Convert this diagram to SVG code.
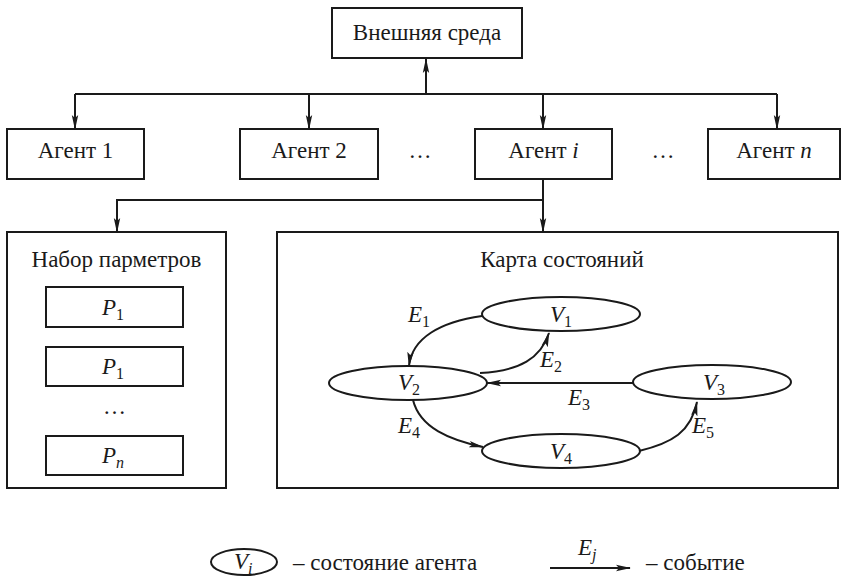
<svg xmlns="http://www.w3.org/2000/svg" width="846" height="579" viewBox="0 0 846 579">
<style>
text{font-family:"Liberation Serif",Tinos,"Times New Roman",Times,"Noto Serif","DejaVu Serif",serif;font-size:23px;fill:#1a1a1a}
.c{text-anchor:middle}
.i{font-style:italic}
.s{font-size:16px;font-style:normal}
.si{font-size:16px;font-style:italic}
.box{fill:#fff;stroke:#1a1a1a;stroke-width:2}
.ell{fill:#fff;stroke:#1a1a1a;stroke-width:2}
.ln{fill:none;stroke:#1a1a1a;stroke-width:2}
.ar{fill:none;stroke:#1a1a1a;stroke-width:2;marker-end:url(#ah)}
</style>
<defs>
<marker id="ah" markerWidth="15" markerHeight="8" refX="14" refY="4" orient="auto" markerUnits="userSpaceOnUse">
<path d="M0,0.8 L15,4 L0,7.2 L3,4 z" fill="#1a1a1a"/>
</marker>
</defs>

<g id="env"><rect class="box" x="332" y="8" width="190" height="50"/><text class="c" x="427" y="40">Внешняя среда</text></g>

<g id="agent1"><rect class="box" x="7" y="129" width="137" height="50"/><text class="c" x="75.5" y="158">Агент 1</text></g>
<g id="agent2"><rect class="box" x="240" y="129" width="138" height="50"/><text class="c" x="309" y="158">Агент 2</text></g>
<g id="agenti"><rect class="box" x="475" y="129" width="137" height="50"/><text class="c" x="543.5" y="158">Агент <tspan class="i">i</tspan></text></g>
<g id="agentn"><rect class="box" x="708" y="129" width="132" height="50"/><text class="c" x="774" y="158">Агент <tspan class="i">n</tspan></text></g>
<text class="c" x="420" y="158">…</text>
<text class="c" x="663" y="158">…</text>

<g id="params">
<rect class="box" x="7" y="232" width="219" height="256"/>
<text class="c" x="116.5" y="267">Набор парметров</text>
<rect class="box" x="46" y="287" width="137" height="40"/>
<text x="102" y="315"><tspan class="i">P</tspan><tspan class="s" dy="5">1</tspan></text>
<rect class="box" x="46" y="347" width="137" height="39"/>
<text x="102" y="374"><tspan class="i">P</tspan><tspan class="s" dy="5">1</tspan></text>
<text class="c" x="114.5" y="414">…</text>
<rect class="box" x="46" y="436" width="137" height="39"/>
<text x="102" y="463"><tspan class="i">P</tspan><tspan class="si" dy="5">n</tspan></text>
</g>

<g id="statemap">
<rect class="box" x="277" y="232" width="561" height="256"/>
<text class="c" x="562" y="267">Карта состояний</text>
</g>

<g id="v1"><ellipse class="ell" cx="561" cy="314" rx="79" ry="17"/><text x="550" y="322"><tspan class="i">V</tspan><tspan class="s" dy="5">1</tspan></text></g>
<g id="v2"><ellipse class="ell" cx="408" cy="383" rx="79" ry="17"/><text x="398" y="390"><tspan class="i">V</tspan><tspan class="s" dy="5">2</tspan></text></g>
<g id="v3"><ellipse class="ell" cx="712" cy="382" rx="79" ry="17"/><text x="703" y="390"><tspan class="i">V</tspan><tspan class="s" dy="5">3</tspan></text></g>
<g id="v4"><ellipse class="ell" cx="561" cy="451" rx="79" ry="17"/><text x="550" y="459"><tspan class="i">V</tspan><tspan class="s" dy="5">4</tspan></text></g>

<g id="labels">
<text x="408" y="322"><tspan class="i">E</tspan><tspan class="s" dy="5">1</tspan></text>
<text x="540" y="367"><tspan class="i">E</tspan><tspan class="s" dy="5">2</tspan></text>
<text x="568" y="405"><tspan class="i">E</tspan><tspan class="s" dy="5">3</tspan></text>
<text x="398" y="433"><tspan class="i">E</tspan><tspan class="s" dy="5">4</tspan></text>
<text x="692" y="433"><tspan class="i">E</tspan><tspan class="s" dy="5">5</tspan></text>
</g>

<g id="connectors">
<line class="ar" x1="426" y1="94" x2="426" y2="59"/>
<line class="ln" x1="75" y1="94" x2="777" y2="94"/>
<line class="ar" x1="75" y1="94" x2="75" y2="129"/>
<line class="ar" x1="309" y1="94" x2="309" y2="129"/>
<line class="ar" x1="543" y1="94" x2="543" y2="129"/>
<line class="ar" x1="777" y1="94" x2="777" y2="129"/>
<line class="ar" x1="543" y1="179" x2="543" y2="232"/>
<polyline class="ar" points="543,200 117,200 117,232"/>
<path class="ar" d="M482,316 C440,322 412,338 409,366"/>
<path class="ar" d="M480,373 C520,371 541,358 549,333"/>
<line class="ar" x1="633" y1="383" x2="487" y2="383"/>
<path class="ar" d="M413,400 C420,428 450,440 483,447"/>
<path class="ar" d="M639,451 C672,443 691,432 697,402"/>
</g>

<g id="legend">
<ellipse class="ell" cx="244" cy="562" rx="33" ry="13"/>
<text x="234" y="569"><tspan class="i">V</tspan><tspan class="si" dy="5">i</tspan></text>
<text x="293" y="570">–  состояние агента</text>
<line class="ar" x1="550" y1="568" x2="630" y2="568"/>
<text x="578" y="555"><tspan class="i">E</tspan><tspan class="si" dy="5">j</tspan></text>
<text x="646" y="570">–  событие</text>
</g>
</svg>
